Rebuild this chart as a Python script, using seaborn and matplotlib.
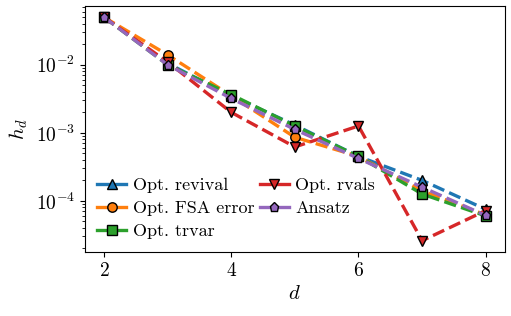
import matplotlib
matplotlib.use("Agg")
import matplotlib.pyplot as plt
import seaborn as sns

d = [2, 3, 4, 5, 6, 7, 8]
revival = [0.050, 0.0105, 0.0035, 0.0013, 0.00045, 0.00020, 7.5e-5]
fsa_error = [0.050, 0.0140, 0.0035, 0.00086, 0.00045, 0.00014, 6.2e-5]
trvar = [0.050, 0.0100, 0.00365, 0.00126, 0.00045, 0.000126, 6.0e-5]
rvals = [0.050, 0.0110, 0.0020, 0.00062, 0.00126, 2.6e-5, 7.2e-5]
ansatz = [0.050, 0.0100, 0.0032, 0.00112, 0.00042, 0.000159, 6.1e-5]

series = [
    ("Opt. revival", revival, "^"),
    ("Opt. FSA error", fsa_error, "o"),
    ("Opt. trvar", trvar, "s"),
    ("Opt. rvals", rvals, "v"),
    ("Ansatz", ansatz, "p"),
]
colors = sns.color_palette("tab10", 5)


def main():
    plt.rcParams["font.family"] = "cmr10"
    plt.rcParams["mathtext.fontset"] = "cm"
    plt.rcParams["axes.formatter.use_mathtext"] = True

    fig = plt.figure(figsize=(5.11, 3.16), dpi=100)
    ax = fig.add_axes([0.166, 0.203, 0.822, 0.778])

    for (name, vals, mk), c in zip(series, colors):
        sns.lineplot(
            x=d, y=vals, ax=ax, color=c, linestyle="--", linewidth=2.4,
            marker=mk, markersize=6.8, markeredgecolor="black",
            markeredgewidth=1.0, label=name,
        )

    ax.set_yscale("log")
    ax.set_xticks([2, 4, 6, 8])
    ax.tick_params(axis="both", labelsize=14)
    ax.set_xlabel("$d$", fontsize=15)
    ax.set_ylabel("$h_d$", fontsize=15)
    leg = ax.legend(
        loc="lower left", ncol=2, frameon=False, fontsize=13,
        handlelength=1.6, handletextpad=0.35, columnspacing=0.3,
        labelspacing=0.4, borderaxespad=0.3,
    )
    # solid handles in the legend
    for line in leg.get_lines():
        line.set_linestyle("-")

    fig.savefig("out.png", dpi=100)


if __name__ == "__main__":
    main()
